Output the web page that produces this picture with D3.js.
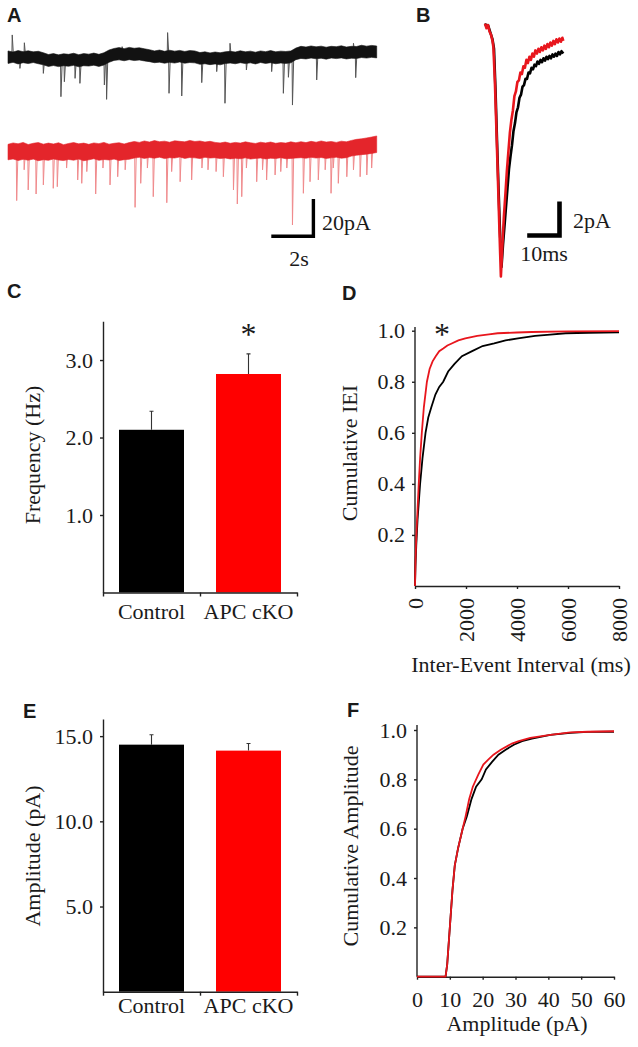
<!DOCTYPE html>
<html><head><meta charset="utf-8">
<script src="https://cdn.jsdelivr.net/npm/d3@7"></script>
<style>
body{margin:0;background:#fff}
svg text{font-family:"Liberation Serif","Times New Roman",serif;fill:#1a1a1a}
</style></head><body>
<svg id="fig" width="638" height="1047"></svg>
<script>
// ---------------- DATA ----------------
// Panel A: raw traces (seconds, pA), envelope sampled every traceStep s
const traceStep = 0.25;
const blackTop = [3.4,2.8,3.6,3.0,3.5,2.9,3.2,2.4,1.4,1.9,1.2,1.8,1.5,2.1,1.3,1.9,1.6,2.2,1.5,2.4,3.9,4.8,5.3,4.7,5.4,4.9,5.2,4.6,4.1,3.4,3.9,3.2,3.8,3.3,3.7,3.1,3.6,3.4,2.5,2.9,2.3,2.8,2.4,2.9,3.2,2.8,3.5,2.9,3.3,2.7,3.4,3.0,3.6,2.9,3.3,3.1,3.4,5.0,6.0,5.6,6.2,5.7,6.1,5.5,6.0,5.8,6.3,5.6,6.0,5.9,6.6,6.1,6.5,6.2];
const blackBottom = [-3.6,-3.0,-3.9,-3.2,-3.7,-3.1,-3.8,-4.4,-5.3,-4.8,-5.4,-4.9,-5.2,-4.7,-5.5,-4.9,-5.1,-4.6,-5.3,-4.5,-3.0,-1.9,-1.6,-2.1,-1.5,-2.0,-1.7,-2.2,-2.6,-3.2,-2.9,-3.5,-3.0,-3.4,-2.8,-3.5,-3.1,-3.3,-4.1,-3.8,-4.3,-3.9,-4.4,-3.7,-3.4,-3.8,-3.2,-3.7,-3.3,-3.9,-3.1,-3.6,-3.2,-3.8,-3.4,-3.6,-3.3,-1.5,-0.8,-1.1,-0.6,-1.0,-0.7,-1.2,-0.6,-0.9,-0.5,-1.1,-0.7,-0.8,-0.3,-0.6,-0.2,-0.5];
const blackEvents = [[0.59,-6.4],[1.75,-9.2],[2.62,-22.3],[2.79,-13.9],[3.32,-12.0],[3.56,-14.8],[4.77,-15.7],[4.88,-23.8],[7.97,-20.4],[8.6,-21.9],[9.59,-14.4],[10.33,-8.2],[10.74,-26.0],[11.8,-7.3],[13.05,-8.2],[13.63,-20.4],[13.88,-11.4],[14.08,-27.0],[15.28,-12.9],[17.21,-11.6],
  [0.21,12.4],[0.81,8.0],[5.65,5.8],[7.9,13.7],[10.99,7.7],[17.1,7.7]];
const redTop = [4.3,5.1,4.6,5.4,4.2,4.9,5.3,4.4,5.0,4.5,5.2,4.1,4.8,5.3,4.6,5.0,4.3,5.1,4.7,5.4,4.4,4.9,5.2,4.5,5.3,
  5.9,5.4,6.2,5.6,6.4,5.8,6.1,5.5,6.3,6.0,5.7,6.5,5.9,6.2,5.6,6.0,5.4,
  5.1,5.6,4.9,5.4,5.0,5.7,5.2,4.8,5.5,5.1,5.6,4.9,5.3,5.0,5.7,5.2,
  5.8,5.3,6.0,5.5,6.2,5.6,5.9,5.4,6.1,5.7,
  6.5,7.1,7.4,7.9,8.4,9.0];
const redBottom = [-4.4,-3.9,-4.8,-4.1,-4.6,-4.0,-4.9,-4.3,-4.7,-3.9,-4.5,-4.8,-4.2,-4.6,-4.0,-4.9,-4.4,-3.8,-4.7,-4.2,-4.5,-4.0,-4.8,-4.3,-4.1,
  -3.4,-3.0,-3.6,-3.1,-3.5,-2.9,-3.7,-3.2,-3.4,-2.8,-3.6,-3.1,-3.3,-3.7,-3.0,-3.4,-3.2,
  -3.7,-3.4,-3.9,-3.5,-3.8,-3.3,-4.0,-3.6,-3.4,-3.9,-3.5,-3.7,-3.2,-3.8,-3.6,-3.4,
  -3.2,-3.5,-3.0,-3.4,-3.1,-3.6,-3.3,-2.9,-3.5,-3.2,
  -2.3,-1.8,-1.5,-1.2,-0.8,-0.3];
const redEvents = [[0.43,-27.3],[0.8,-10],[1.0,-21.3],[1.39,-23.6],[1.75,-18.5],[2.24,-20.4],[2.44,-19.5],[2.9,-9],[3.45,-15.7],[3.65,-17.6],[3.9,-11],[4.34,-23.6],[4.7,-9],[5.05,-18.5],[5.43,-13.9],[5.8,-10],[6.29,-31.1],[6.57,-17.6],[6.9,-9],[7.19,-25.1],[7.86,-28.5],[8.1,-11],[8.52,-16.7],[9.09,-15.7],[9.6,-9],[9.9,-10],[10.3,-11],[10.66,-13.9],[11.16,-21.3],[11.35,-29.2],[11.57,-25.1],[11.8,-9],[12.31,-16.7],[12.6,-10],[12.8,-15.7],[13.22,-12.9],[13.5,-11],[13.8,-9],[14.08,-41],[14.62,-23.2],[14.95,-16.7],[15.36,-15.7],[15.7,-10],[15.99,-23.2],[16.1,-9],[16.35,-17.6],[16.77,-13.9],[17.1,-10],[17.43,-13.9],[17.76,-12.9],[18.0,-9]];

// Panel B: averaged event (ms, pA)
const bRedT = [0,0.5,1.0,1.5,2.0,2.5,2.8,3.3,3.8,4.3,4.8,5.3,5.8,6.3,6.8,7.3,7.8,8.3,8.8,9.3,9.8,10.3,10.8,11.3,11.8,12.3,12.8,13.3,13.8,14.3,14.8,15.3,15.8,16.3,16.8,17.3,17.8,18.3,18.8,19.3,19.8,20.3,20.8,21.3,21.8,22.3,22.8,23.3,23.8,24.3,24.8,25.3,25.8,26.1];
const bRedI = [0.2,-0.1,0.1,-0.3,-0.5,-0.9,-1.3,-3.5,-6.5,-9.6,-12.8,-15.8,-13.8,-12.0,-10.6,-9.1,-7.9,-6.7,-5.9,-5.3,-4.4,-4.1,-3.5,-3.4,-2.9,-3.0,-2.5,-2.6,-2.1,-2.3,-1.9,-2.1,-1.7,-1.9,-1.5,-1.7,-1.4,-1.6,-1.3,-1.5,-1.2,-1.4,-1.1,-1.3,-1.0,-1.2,-0.9,-1.1,-0.8,-1.0,-0.75,-0.95,-0.7,-0.9];
const bBlackT = [0,0.5,1.0,1.5,2.0,2.5,3.0,3.5,4.0,4.5,5.0,5.5,6.0,6.5,7.0,7.5,8.0,8.5,9.0,9.5,10.0,10.5,11.0,11.5,12.0,12.5,13.0,13.5,14.0,14.5,15.0,15.5,16.0,16.5,17.0,17.5,18.0,18.5,19.0,19.5,20.0,20.5,21.0,21.5,22.0,22.5,23.0,23.5,24.0,24.5,25.0,25.5,26.1];
const bBlackI = [0.2,0.0,0.1,-0.2,-0.5,-0.8,-1.4,-4.0,-7.2,-10.2,-13.0,-15.2,-13.8,-12.6,-11.4,-10.2,-9.0,-8.2,-7.5,-6.6,-6.1,-5.4,-5.1,-4.5,-4.3,-3.8,-3.7,-3.3,-3.3,-2.9,-2.95,-2.6,-2.7,-2.4,-2.5,-2.2,-2.35,-2.1,-2.25,-2.0,-2.15,-1.9,-2.05,-1.85,-2.0,-1.75,-1.9,-1.7,-1.85,-1.6,-1.75,-1.55,-1.7];

// Panels C & E: bar charts
const groups = ["Control","APC cKO"];
const freqMean = [2.10, 2.82];
const freqSem  = [0.24, 0.26];
const ampMean  = [14.5, 14.15];
const ampSem   = [0.58, 0.42];
const freqTicks = [1.0, 2.0, 3.0];
const ampTicks  = [5.0, 10.0, 15.0];

// Panel D: cumulative inter-event interval (ms, fraction)
const ieiBlackX = [0,20,50,100,200,293,413,520,640,800,950,1107,1300,1550,1840,2240,2650,3107,3550,4040,4707,5300,5907,6800,8000];
const ieiBlackY = [0,0.08,0.16,0.26,0.4,0.5,0.6,0.66,0.7,0.75,0.78,0.8,0.84,0.87,0.9,0.92,0.94,0.95,0.962,0.97,0.98,0.985,0.99,0.992,0.994];
const ieiRedX = [0,20,53,100,147,200,267,347,467,573,690,813,950,1107,1270,1440,1700,1973,2440,2900,3240,4000,4573,6000,8000];
const ieiRedY = [0,0.1,0.2,0.3,0.4,0.5,0.6,0.7,0.8,0.85,0.88,0.9,0.92,0.93,0.942,0.95,0.962,0.97,0.98,0.986,0.99,0.993,0.995,0.997,0.998];
const ieiTicksX = [0,2000,4000,6000,8000];
const cumTicksY = [0.2,0.4,0.6,0.8,1.0];

// Panel F: cumulative amplitude (pA, fraction)
const ampRedX = [0,8.7,9.2,10,10.8,11.5,12.5,13.9,14.8,15.9,17,18.7,20.2,21.7,23.3,25.5,28.9,31,34.5,40.6,46.7,52,60];
const ampRedY = [0,0,0.05,0.2,0.35,0.45,0.52,0.6,0.65,0.72,0.77,0.82,0.86,0.88,0.9,0.92,0.945,0.955,0.968,0.98,0.99,0.993,0.995];
const ampBlackX = [0,8.7,9.2,10,10.8,11.5,12.5,13.9,15.2,16.6,18,19.7,21,22.8,24.8,27,29.5,32,35,40.6,46.7,52,60];
const ampBlackY = [0,0,0.05,0.2,0.35,0.45,0.52,0.6,0.65,0.72,0.77,0.8,0.84,0.87,0.9,0.92,0.94,0.955,0.965,0.98,0.988,0.992,0.993];
const ampTicksX = [0,10,20,30,40,50,60];

// ---------------- STYLE ----------------
const RED_BAR = "#ff0000", BLACK = "#000000", RED_LINE = "#e8161d";
const FONT = 22;

const svg = d3.select("#fig");

function panelLabel(t, x, y){
  svg.append("text").attr("x",x).attr("y",y)
    .style("font-family","'Liberation Sans',Arial,sans-serif").style("font-weight","bold").style("font-size","20px").text(t);
}
function styleAxis(g){
  g.attr("font-family",null).attr("font-size",null);
  g.select(".domain").attr("stroke","#222").attr("stroke-width",1.4);
  g.selectAll(".tick line").attr("stroke","#222").attr("stroke-width",1.4);
  g.selectAll(".tick text").attr("fill","#1a1a1a").style("font-size",FONT+"px");
  return g;
}

// ---------------- PANEL A ----------------
panelLabel("A",7,22);
const nA = blackTop.length;
const xA = d3.scaleLinear().domain([0,(nA-1)*traceStep]).range([8,376.7]);
const yBk = d3.scaleLinear().domain([0,-20]).range([57,92.6]);
const yRd = d3.scaleLinear().domain([0,-20]).range([152,187.6]);

function drawTrace(top, bottom, events, yS, bandCol, spikeCol){
  const g = svg.append("g");
  const mid = t => { const i = Math.max(0,Math.min(top.length-1,Math.round(t/traceStep))); return (top[i]+bottom[i])/2; };
  g.selectAll("path.sp").data(events).join("path")
    .attr("d", d => { const x = xA(d[0]), y0 = yS(mid(d[0])), y1 = yS(d[1]);
      return `M${x-0.4},${y0}L${x},${y1}L${x+1.3},${y0}`; })
    .attr("fill","none").attr("stroke",spikeCol).attr("stroke-width",1);
  const area = d3.area().x((d,i)=>xA(i*traceStep)).y0((d,i)=>yS(bottom[i])).y1((d,i)=>yS(top[i]));
  g.append("path").datum(top).attr("d",area).attr("fill",bandCol).attr("stroke",bandCol).attr("stroke-width",0.6);
}
drawTrace(blackTop, blackBottom, blackEvents, yBk, "#121212", "#555");
drawTrace(redTop, redBottom, redEvents, yRd, "#e4252b", "#f08a8c");

// scale bar A
{
  const len2s = xA(2)-xA(0), len20 = yBk(-20)-yBk(0);
  const xe = 313.4, yb = 236.2;
  svg.append("path").attr("d",`M${xe-len2s},${yb}H${xe}V${yb-len20}`)
    .attr("fill","none").attr("stroke","#000").attr("stroke-width",3.4).attr("stroke-linecap","square");
  svg.append("text").attr("x",322).attr("y",229.5).style("font-size",FONT+"px").text("20pA");
  svg.append("text").attr("x",299).attr("y",266).attr("text-anchor","middle").style("font-size",FONT+"px").text("2s");
}

// ---------------- PANEL B ----------------
panelLabel("B",416,22);
const xB = d3.scaleLinear().domain([0,10]).range([485,515]);
const yB = d3.scaleLinear().domain([0,-2]).range([26.7,58.3]);
const lineB = d3.line().x(d=>xB(d[0])).y(d=>yB(d[1]));
svg.append("path").attr("d",lineB(bBlackT.map((t,i)=>[t,bBlackI[i]]))).attr("fill","none").attr("stroke","#000").attr("stroke-width",2.6).attr("stroke-linejoin","round");
svg.append("path").attr("d",lineB(bRedT.map((t,i)=>[t,bRedI[i]]))).attr("fill","none").attr("stroke",RED_LINE).attr("stroke-width",2.6).attr("stroke-linejoin","round");
{
  const l10 = xB(10)-xB(0), l2 = yB(-2)-yB(0);
  const xe = 559.5, yb = 235.5;
  svg.append("path").attr("d",`M${xe-l10},${yb}H${xe}V${yb-l2}`)
    .attr("fill","none").attr("stroke","#000").attr("stroke-width",4.6).attr("stroke-linecap","square");
  svg.append("text").attr("x",573).attr("y",228).style("font-size",FONT+"px").text("2pA");
  svg.append("text").attr("x",544).attr("y",261).attr("text-anchor","middle").style("font-size",FONT+"px").text("10ms");
}

// ---------------- BAR PANELS ----------------
function barPanel(opt){
  const x = d3.scaleBand().domain(groups).range([103,297]).paddingInner(0.33).paddingOuter(0.165);
  const y = d3.scaleLinear().domain(opt.domain).range([opt.y0, opt.y1]);
  const g = svg.append("g");
  g.selectAll("rect").data(groups).join("rect")
    .attr("x",d=>x(d)).attr("width",x.bandwidth())
    .attr("y",(d,i)=>y(opt.mean[i])).attr("height",(d,i)=>y(0)-y(opt.mean[i]))
    .attr("fill",(d,i)=>i===0?BLACK:RED_BAR);
  g.selectAll("path.err").data(groups).join("path")
    .attr("d",(d,i)=>{ const cx = x(d)+x.bandwidth()/2; const yt = y(opt.mean[i]+opt.sem[i]);
      return `M${cx},${y(opt.mean[i])}V${yt}M${cx-2},${yt}H${cx+2}`; })
    .attr("stroke","#333").attr("stroke-width",1.1).attr("fill","none");
  const ya = g.append("g").attr("transform","translate(103,0)")
    .call(d3.axisLeft(y).tickValues(opt.ticks).tickFormat(d3.format(".1f")).tickSize(3).tickSizeOuter(0).tickPadding(7));
  styleAxis(ya);
  const xs = d3.scaleLinear().domain([0,2]).range([103,297]);
  const xa = g.append("g").attr("transform",`translate(0,${opt.y0})`)
    .call(d3.axisBottom(xs).tickValues([0,1,2]).tickFormat("").tickSize(4).tickSizeOuter(0));
  styleAxis(xa);
  g.selectAll("text.cat").data(groups).join("text").attr("class","cat")
    .attr("x",d=>x(d)+x.bandwidth()/2).attr("y",opt.catY).attr("text-anchor","middle")
    .style("font-size",FONT+"px").text(d=>d);
  g.append("text").attr("transform",`translate(${opt.labX},${opt.labY}) rotate(-90)`).attr("text-anchor","middle")
    .style("font-size",FONT+"px").text(opt.label);
  return {x,y};
}

panelLabel("C",7,298);
const c = barPanel({domain:[0,3.5], y0:592.5, y1:321.3, mean:freqMean, sem:freqSem, ticks:freqTicks,
  catY:619, label:"Frequency (Hz)", labX:40, labY:455});
svg.append("text").attr("x",c.x(groups[1])+c.x.bandwidth()/2).attr("y",345).attr("text-anchor","middle").style("font-size","32px").text("*");

panelLabel("E",23,718);
barPanel({domain:[0,16], y0:991.7, y1:719.1, mean:ampMean, sem:ampSem, ticks:ampTicks,
  catY:1013, label:"Amplitude (pA)", labX:40, labY:856});

// ---------------- PANEL D ----------------
panelLabel("D",342,300);
{
  const x = d3.scaleLinear().domain([0,8000]).range([415,619]);
  const y = d3.scaleLinear().domain([0,1]).range([586,330.7]);
  const line = d3.line().x(d=>x(d[0])).y(d=>y(d[1]));
  const ya = svg.append("g").attr("transform","translate(415,0)")
    .call(d3.axisLeft(y).tickValues(cumTicksY).tickFormat(d3.format(".1f")).tickSize(3).tickSizeOuter(0).tickPadding(7));
  styleAxis(ya);
  ya.select(".domain").attr("d","M0,586V327");
  const xa = svg.append("g").attr("transform","translate(0,586)")
    .call(d3.axisBottom(x).tickValues(ieiTicksX).tickFormat(d3.format("d")).tickSize(3).tickSizeOuter(0));
  styleAxis(xa);
  xa.selectAll(".tick text").attr("transform","rotate(-90)").attr("x",-12).attr("y",0).attr("dy","0.35em").attr("text-anchor","end");
  svg.append("path").attr("d",line(ieiBlackX.map((v,i)=>[v,ieiBlackY[i]]))).attr("fill","none").attr("stroke","#000").attr("stroke-width",1.8);
  svg.append("path").attr("d",line(ieiRedX.map((v,i)=>[v,ieiRedY[i]]))).attr("fill","none").attr("stroke",RED_LINE).attr("stroke-width",1.8);
  svg.append("text").attr("transform","translate(357,453) rotate(-90)").attr("text-anchor","middle").style("font-size",FONT+"px").text("Cumulative IEI");
  svg.append("text").attr("x",521).attr("y",672).attr("text-anchor","middle").style("font-size",FONT+"px").text("Inter-Event Interval (ms)");
  svg.append("text").attr("x",442).attr("y",345).attr("text-anchor","middle").style("font-size","32px").text("*");
}

// ---------------- PANEL F ----------------
panelLabel("F",347,717);
{
  const x = d3.scaleLinear().domain([0,60]).range([417,614]);
  const y = d3.scaleLinear().domain([0,1]).range([976.7,730]);
  const line = d3.line().x(d=>x(d[0])).y(d=>y(d[1]));
  const ya = svg.append("g").attr("transform","translate(417,0)")
    .call(d3.axisLeft(y).tickValues(cumTicksY).tickFormat(d3.format(".1f")).tickSize(3).tickSizeOuter(0).tickPadding(7));
  styleAxis(ya);
  ya.select(".domain").attr("d","M0,976.7V725");
  const xa = svg.append("g").attr("transform","translate(0,976.7)")
    .call(d3.axisBottom(x).tickValues(ampTicksX).tickFormat(d3.format("d")).tickSize(3).tickSizeOuter(0));
  styleAxis(xa);
  xa.selectAll(".tick text").attr("y",30).attr("dy",0);
  svg.append("path").attr("d",line(ampBlackX.map((v,i)=>[v,ampBlackY[i]]))).attr("fill","none").attr("stroke","#000").attr("stroke-width",1.8);
  svg.append("path").attr("d",line(ampRedX.map((v,i)=>[v,ampRedY[i]]))).attr("fill","none").attr("stroke",RED_LINE).attr("stroke-width",1.8);
  svg.append("text").attr("transform","translate(358,846) rotate(-90)").attr("text-anchor","middle").style("font-size",FONT+"px").text("Cumulative Amplitude");
  svg.append("text").attr("x",517).attr("y",1031).attr("text-anchor","middle").style("font-size",FONT+"px").text("Amplitude (pA)");
}
</script>
</body></html>
